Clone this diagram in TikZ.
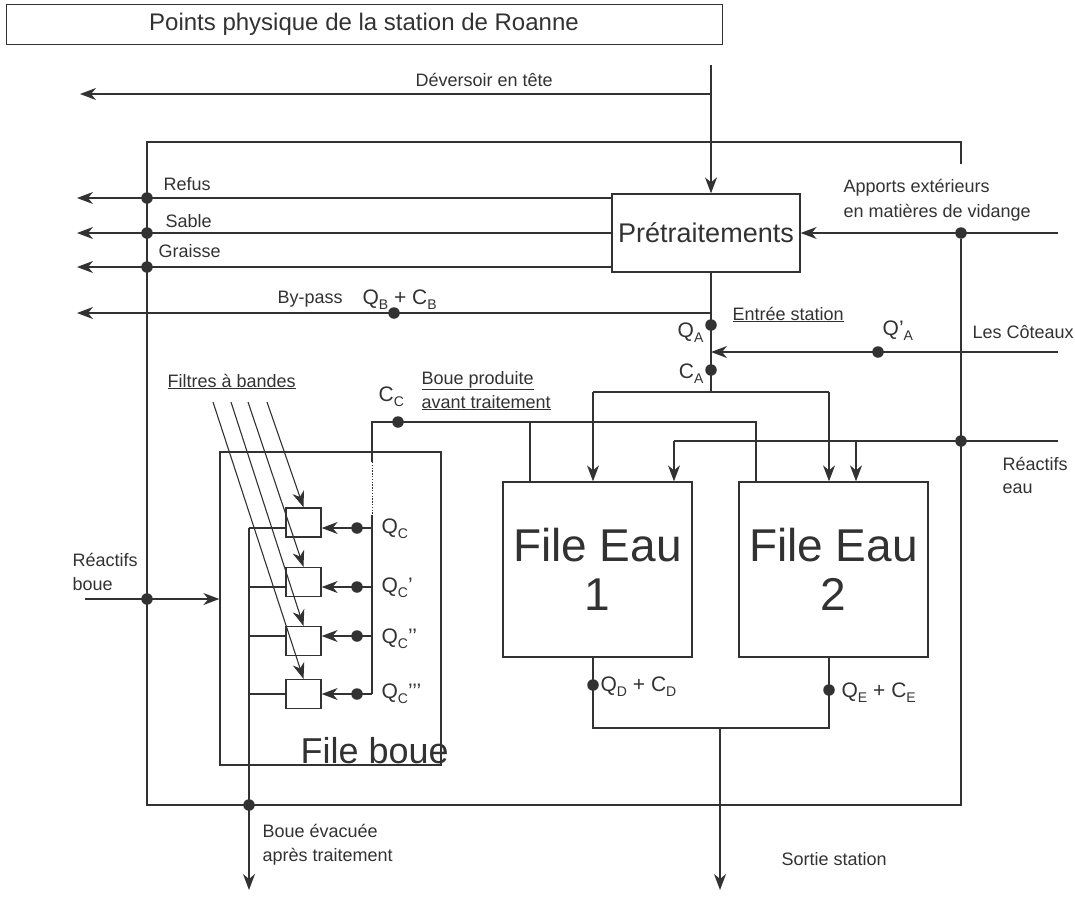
\documentclass[tikz,border=0pt]{standalone}
\usepackage{fontspec}
\setmainfont{Liberation Sans}
\usetikzlibrary{arrows.meta,calc}
\definecolor{ink}{RGB}{50,50,50}
% lowered subscript used in the flow labels
\newcommand\lsub[1]{\raisebox{-0.28em}{\fontsize{14}{14}\selectfont #1}}
\begin{document}
\begin{tikzpicture}[x=1pt,y=-1pt,line width=1.3pt,draw=ink,text=ink,
  lbl/.style={font=\fontsize{18}{22}\selectfont,inner sep=0pt,anchor=base west},
  fq/.style={font=\fontsize{21}{24}\selectfont,inner sep=0pt,anchor=base west},
  dot/.style={circle,fill=ink,draw=none,inner sep=0pt,minimum size=11.5pt},
  arr/.style={-{Stealth[length=16pt,width=12pt,inset=5pt]}},
  box/.style={draw,inner sep=0pt},
  filt/.style={box,minimum width=35,minimum height=29}]
\useasboundingbox (0,0) rectangle (1075,897);

% ---------- title ----------
\node[box,line width=0.9pt,minimum width=716,minimum height=40,
      font=\fontsize{24}{28}\selectfont] (title) at (364,24)
      {Points physique de la station de Roanne};

% ---------- main blocks ----------
\node[box,minimum width=188,minimum height=78,font=\fontsize{27}{30}\selectfont]
  (pre) at (706,233) {Prétraitements};
\node[box,minimum width=189,minimum height=175,align=center,
      font=\fontsize{46}{49}\selectfont] (fe1) at (597.5,569.5) {File Eau\\1};
\node[box,minimum width=189,minimum height=175,align=center,
      font=\fontsize{46}{49}\selectfont] (fe2) at (833.5,569.5) {File Eau\\2};
\node[box,minimum width=221,minimum height=313] (fb) at (330.5,608.5) {};
\node[font=\fontsize{36}{40}\selectfont,inner sep=0pt,anchor=base west]
  (fbl) at (300,763) {File boue};

% belt filters
\node[filt] (f1) at (303.5,522.5) {};
\node[filt] (f2) at (303.5,582) {};
\node[filt] (f3) at (303.5,641) {};
\node[filt] (f4) at (303.5,694) {};

% ---------- coordinates ----------
\coordinate (devTop) at (711,65);
\coordinate (devJ) at (711,94);
\coordinate (devEnd) at (80,94);
\coordinate (frA) at (961,164);
\coordinate (frB) at (961,142);
\coordinate (frC) at (147,142);
\coordinate (frD) at (147,805);
\coordinate (frE) at (961,805);
\coordinate (refEnd) at (77,198);
\coordinate (sabEnd) at (77,233);
\coordinate (graEnd) at (77,267);
\coordinate (appIn) at (1058,233);
\coordinate (split) at (711,392);
\coordinate (bpJ) at (711,313);
\coordinate (bpEnd) at (77,313);
\coordinate (cotIn) at (1058,352);
\coordinate (spL) at (593,392);
\coordinate (spR) at (829,392);
\coordinate (reIn) at (1058,441);
\coordinate (reL) at (674,441);
\coordinate (reR) at (856,441);
\coordinate (bpA) at (530,422);
\coordinate (bpB) at (756,422);
\coordinate (bpC) at (372,422);
\coordinate (bpD) at (372,462);
\coordinate (bpE) at (372,515);
\coordinate (bpF) at (372,694);
\coordinate (qc1) at (372,528);
\coordinate (qc2) at (372,587);
\coordinate (qc3) at (372,636);
\coordinate (qc4) at (372,694);
\coordinate (lb1) at (249,528);
\coordinate (lb2) at (249,587);
\coordinate (lb3) at (249,636);
\coordinate (lb4) at (249,694);
\coordinate (boueEnd) at (249,890);
\coordinate (ft1) at (267,402);
\coordinate (ft2) at (248,402);
\coordinate (ft3) at (231,402);
\coordinate (ft4) at (213,402);
\coordinate (rbIn) at (85,599);
\coordinate (oL) at (593,728);
\coordinate (oR) at (829,728);
\coordinate (oM) at (720,728);
\coordinate (sortEnd) at (720,890);

% ---------- junction dots ----------
\node[dot] (dRef) at (147,198) {};
\node[dot] (dSab) at (147,233) {};
\node[dot] (dGra) at (147,267) {};
\node[dot] (dRb) at (147,599) {};
\node[dot] (dBev) at (249,805) {};
\node[dot] (dApp) at (961,233) {};
\node[dot] (dRe) at (961,441) {};
\node[dot] (dQB) at (394,313) {};
\node[dot] (dQA) at (711,325) {};
\node[dot] (dCA) at (711,370) {};
\node[dot] (dQpA) at (878,352) {};
\node[dot] (dCC) at (398,422) {};
\node[dot] (dQc1) at (357,528) {};
\node[dot] (dQc2) at (357,587) {};
\node[dot] (dQc3) at (357,636) {};
\node[dot] (dQc4) at (357,694) {};
\node[dot] (dQD) at (593,685) {};
\node[dot] (dQE) at (829,690) {};

% ---------- connectors ----------
% head spillway and inflow
\draw[arr] (devTop) -- (devTop |- pre.north);
\draw[arr] (devJ) -- (devEnd);
% plant boundary
\draw (frA) -- (frB) -- (frC) -- (frD) -- (frE) -- (dApp);
% pretreatment residues
\draw[arr] (pre.west |- refEnd) -- (refEnd);
\draw[arr] (pre.west |- sabEnd) -- (sabEnd);
\draw[arr] (pre.west |- graEnd) -- (graEnd);
% external inputs
\draw[arr] (appIn) -- (pre.east);
\draw (split |- pre.south) -- (split);
\draw[arr] (bpJ) -- (bpEnd);
\draw[arr] (cotIn) -- (cotIn -| split);
% distribution to water lines
\draw (spL) -- (spR);
\draw[arr] (spL) -- (spL |- fe1.north);
\draw[arr] (spR) -- (spR |- fe2.north);
\draw (reIn) -- (reL);
\draw[arr] (reL) -- (reL |- fe1.north);
\draw[arr] (reR) -- (reR |- fe2.north);
% sludge produced
\draw (bpA |- fe1.north) -- (bpA);
\draw (bpB |- fe2.north) -- (bpB) -- (bpC) -- (bpD);
\draw[line width=1pt,dash pattern=on 1.4pt off 1.4pt] (bpD) -- (bpE);
\draw (bpE) -- (bpF);
\draw[arr] (qc1) -- (qc1 -| f1.east);
\draw[arr] (qc2) -- (qc2 -| f2.east);
\draw[arr] (qc3) -- (qc3 -| f3.east);
\draw[arr] (qc4) -- (qc4 -| f4.east);
% belt filters feed
\draw[arr,line width=1.1pt] (ft1) -- (f1.north);
\draw[arr,line width=1.1pt] (ft2) -- (f2.north);
\draw[arr,line width=1.1pt] (ft3) -- (f3.north);
\draw[arr,line width=1.1pt] (ft4) -- (f4.north);
% dewatered sludge out
\draw (lb1) -- (lb1 -| f1.west);
\draw (lb2) -- (lb2 -| f2.west);
\draw (lb3) -- (lb3 -| f3.west);
\draw (lb4) -- (lb4 -| f4.west);
\draw[arr] (lb1) -- (boueEnd);
\draw[arr] (rbIn) -- (rbIn -| fb.west);
% treated water out
\draw (oL |- fe1.south) -- (oL) -- (oR) -- (oR |- fe2.south);
\draw[arr] (oM) -- (sortEnd);

% ---------- labels ----------
\node[lbl] (tDev) at (415,86) {Déversoir en tête};
\node[lbl] (tRef) at (163,190) {Refus};
\node[lbl] (tSab) at (165,227) {Sable};
\node[lbl] (tGra) at (158,257) {Graisse};
\node[lbl] (tByp) at (277,303) {By-pass};
\node[fq] (tQB) at (362,304) {Q\lsub{B} + C\lsub{B}};
\node[fq,anchor=base east] (tQA) at (704,337) {Q\lsub{A}};
\node[fq,anchor=base east] (tCA) at (704,378) {C\lsub{A}};
\node[lbl] (tEnt) at (732,320) {\underline{Entrée station}};
\node[fq] (tQpA) at (882,335) {Q’\lsub{A}};
\node[lbl] (tCot) at (972,338) {Les Côteaux};
\node[lbl] (tApp1) at (843,192) {Apports extérieurs};
\node[lbl] (tApp2) at (843,217) {en matières de vidange};
\node[lbl] (tRe1) at (1002,470) {Réactifs};
\node[lbl] (tRe2) at (1002,493) {eau};
\node[lbl] (tRb1) at (72,566) {Réactifs};
\node[lbl] (tRb2) at (72,590) {boue};
\node[lbl] (tFil) at (167,387) {\underline{Filtres à bandes}};
\node[fq] (tCC) at (378,401) {C\lsub{C}};
\node[lbl] (tBp1) at (421,384) {\underline{Boue produite}};
\node[lbl] (tBp2) at (421,408) {\underline{avant traitement}};
\node[fq] (tQc1) at (381,533) {Q\lsub{C}};
\node[fq] (tQc2) at (381,592) {Q\lsub{C}’};
\node[fq] (tQc3) at (381,643) {Q\lsub{C}’’};
\node[fq] (tQc4) at (381,698) {Q\lsub{C}’’’};
\node[fq] (tQD) at (600,691) {Q\lsub{D} + C\lsub{D}};
\node[fq] (tQE) at (841,697) {Q\lsub{E} + C\lsub{E}};
\node[lbl] (tBe1) at (262,837) {Boue évacuée};
\node[lbl] (tBe2) at (262,861) {après traitement};
\node[lbl] (tSor) at (781,865) {Sortie station};
\end{tikzpicture}
\end{document}
